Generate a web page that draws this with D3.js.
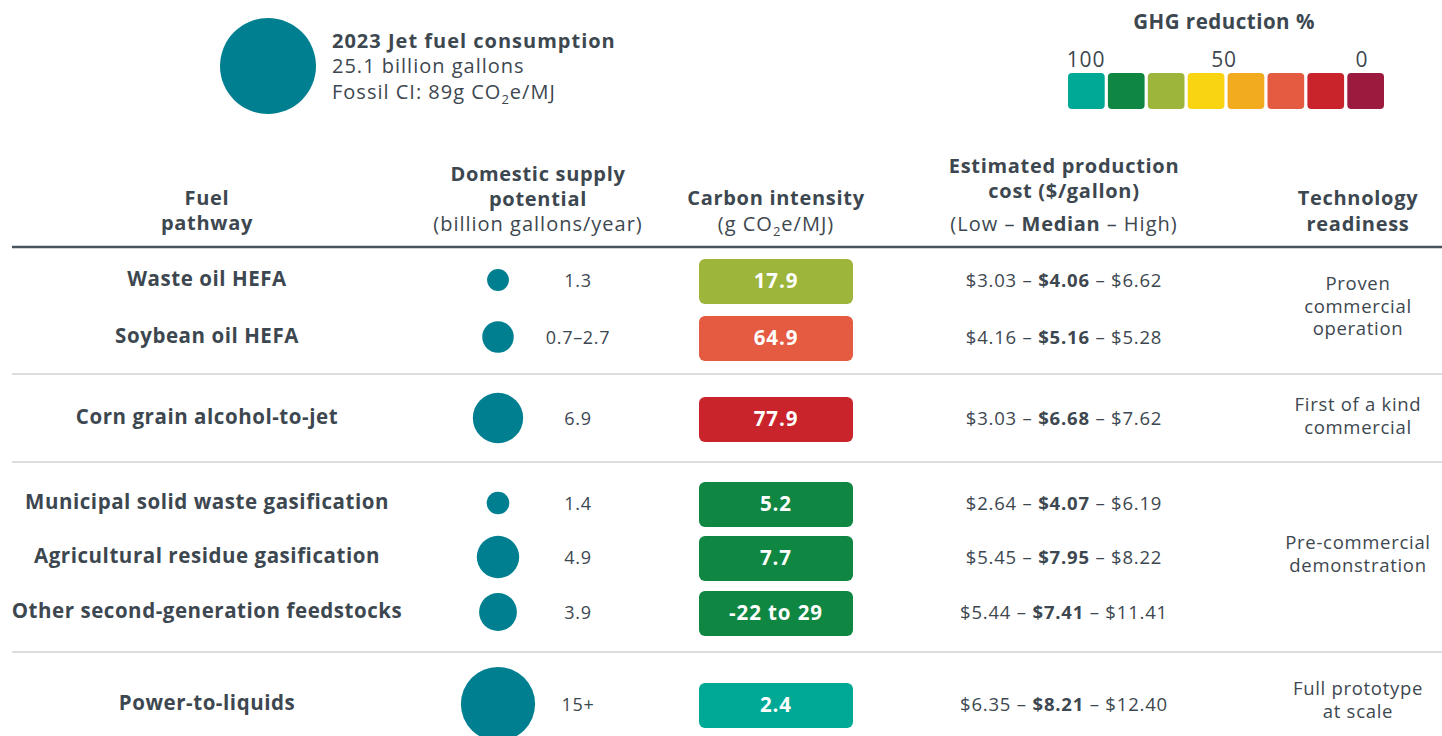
<!DOCTYPE html>
<html>
<head>
<meta charset="utf-8">
<script src="https://cdn.jsdelivr.net/npm/d3@7"></script>
<style>
  body { margin: 0; background: #fff; }
  svg { font-family: "Open Sans", sans-serif; }
</style>
</head>
<body>
<svg id="chart" width="1442" height="736"></svg>
<script>
// dati della tabella
var pathways = ['Waste oil HEFA', 'Soybean oil HEFA', 'Corn grain alcohol-to-jet',
  'Municipal solid waste gasification', 'Agricultural residue gasification',
  'Other second-generation feedstocks', 'Power-to-liquids'];
var supplyValue = [1.3, 2.7, 6.9, 1.4, 4.9, 3.9, 15]; // valore usato per il cerchio
var supplyLabel = ['1.3', '0.7–2.7', '6.9', '1.4', '4.9', '3.9', '15+'];
var ciLabel = ['17.9', '64.9', '77.9', '5.2', '7.7', '-22 to 29', '2.4'];
var ghgClass = [2, 5, 6, 1, 1, 1, 0]; // indice nella legenda GHG
var costLow = ['$3.03', '$4.16', '$3.03', '$2.64', '$5.45', '$5.44', '$6.35'];
var costMed = ['$4.06', '$5.16', '$6.68', '$4.07', '$7.95', '$7.41', '$8.21'];
var costHigh = ['$6.62', '$5.28', '$7.62', '$6.19', '$8.22', '$11.41', '$12.40'];
var readiness = [['Proven', 'commercial', 'operation'], ['First of a kind', 'commercial'],
  ['Pre-commercial', 'demonstration'], ['Full prototype', 'at scale']];

var jetFuel = 25.1;
var ghgColors = ['#00a896', '#0f8642', '#9db53a', '#f8d510', '#f2ab1f', '#e45b41', '#c9242b', '#9c1a3d'];
var ghgTicks = [100, 50, 0];

var svg = d3.select('#chart');
var testo = '#3d4750';
var teal = '#007f91';

// scala ad area per i cerchi
var rScale = d3.scaleSqrt().domain([0, jetFuel]).range([0, 48]);

// posizione verticale delle righe
var rowY = d3.scaleOrdinal().domain(d3.range(7)).range([281, 338, 419, 504, 558, 613, 705]);

// ---- intestazione con cerchio grande
svg.append('circle').attr('cx', 268).attr('cy', 66).attr('r', rScale(jetFuel)).attr('fill', teal);
var intro = svg.append('text').attr('x', 332).attr('y', 48).attr('fill', testo)
  .style('font-size', '20px').style('letter-spacing', '1px');
intro.append('tspan').attr('font-weight', 700).text('2023 Jet fuel consumption');
intro.append('tspan').attr('x', 332).attr('dy', 25).text(jetFuel + ' billion gallons');
intro.append('tspan').attr('x', 332).attr('dy', 26).text('Fossil CI: 89g CO');
intro.append('tspan').attr('dy', 5).style('font-size', '13px').text('2');
intro.append('tspan').attr('dy', -5).text('e/MJ');

// ---- legenda GHG
var legX = d3.scaleBand().domain(d3.range(ghgColors.length)).range([1068, 1384]).paddingInner(0.08);
svg.append('text').attr('x', 1224).attr('y', 29).attr('text-anchor', 'middle')
  .attr('fill', testo).attr('font-weight', 700).style('font-size', '20.5px')
  .style('letter-spacing', '0.5px').text('GHG reduction %');
svg.selectAll('.leg').data(ghgColors).enter().append('rect')
  .attr('x', function (d, i) { return legX(i); })
  .attr('y', 73).attr('width', legX.bandwidth()).attr('height', 36)
  .attr('rx', 4).attr('fill', function (d) { return d; });
var tickX = d3.scaleLinear().domain([100, 0]).range([1086, 1362]);
svg.selectAll('.tick').data(ghgTicks).enter().append('text')
  .attr('x', function (d) { return d == 50 ? 1224 : tickX(d); })
  .attr('y', 67).attr('text-anchor', 'middle').attr('fill', testo)
  .style('font-size', '21px').style('letter-spacing', '0.8px').text(function (d) { return d; });

// ---- intestazioni colonne
var colX = { path: 207, supply: 538, ci: 776, cost: 1064, tech: 1358 };
function header(x, lines) {
  var t = svg.append('text').attr('x', x).attr('text-anchor', 'middle').attr('fill', testo)
    .style('font-size', '20px');
  lines.forEach(function (l) {
    t.append('tspan').attr('x', x).attr('y', l[0]).attr('font-weight', l[2] ? 700 : 400)
      .style('letter-spacing', l[2] ? '0.7px' : '1px').text(l[1]);
  });
  return t;
}
header(colX.path, [[205, 'Fuel', 1], [230, 'pathway', 1]]);
header(colX.supply, [[181, 'Domestic supply', 1], [206, 'potential', 1], [231, '(billion gallons/year)', 0]]);
header(colX.ci, [[205, 'Carbon intensity', 1]]);
var ciSub = svg.append('text').attr('x', colX.ci).attr('y', 231).attr('text-anchor', 'middle')
  .attr('fill', testo).style('font-size', '20px').style('letter-spacing', '1px');
ciSub.append('tspan').text('(g CO');
ciSub.append('tspan').attr('dy', 5).style('font-size', '13px').text('2');
ciSub.append('tspan').attr('dy', -5).text('e/MJ)');
header(colX.cost, [[173, 'Estimated production', 1], [198, 'cost ($/gallon)', 1]]);
var costSub = svg.append('text').attr('x', colX.cost).attr('y', 231).attr('text-anchor', 'middle')
  .attr('fill', testo).style('font-size', '20px').style('letter-spacing', '1px');
costSub.append('tspan').text('(Low – ');
costSub.append('tspan').attr('font-weight', 700).style('letter-spacing', '0.7px').text('Median');
costSub.append('tspan').text(' – High)');
header(colX.tech, [[205, 'Technology', 1], [231, 'readiness', 1]]);

svg.append('line').attr('x1', 12).attr('x2', 1442).attr('y1', 247).attr('y2', 247)
  .attr('stroke', '#4a545c').attr('stroke-width', 2.5);

// linee di separazione tra i gruppi
var sepY = [374, 462, 652];
svg.selectAll('.sep').data(sepY).enter().append('line')
  .attr('x1', 12).attr('x2', 1442).attr('y1', function (d) { return d; }).attr('y2', function (d) { return d; })
  .attr('stroke', '#cfd2d4').attr('stroke-width', 1.5);

// ---- righe
var rows = svg.selectAll('.riga').data(pathways).enter().append('g')
  .attr('transform', function (d, i) { return 'translate(0,' + rowY(i) + ')'; });

rows.append('text').attr('x', colX.path).attr('y', -2).attr('dy', '0.35em').attr('text-anchor', 'middle')
  .attr('fill', testo).attr('font-weight', 700).style('font-size', '20.5px').style('letter-spacing', '0.55px')
  .text(function (d) { return d; });

rows.append('circle').attr('cx', 498).attr('cy', -1)
  .attr('r', function (d, i) { return rScale(supplyValue[i]); }).attr('fill', teal);

rows.append('text').attr('x', 578).attr('y', 0).attr('dy', '0.35em').attr('text-anchor', 'middle')
  .attr('fill', testo).style('font-size', '18px').style('letter-spacing', '0.7px')
  .text(function (d, i) { return supplyLabel[i]; });

rows.append('rect').attr('x', 699).attr('y', -22).attr('width', 154).attr('height', 45).attr('rx', 6)
  .attr('fill', function (d, i) { return ghgColors[ghgClass[i]]; });
rows.append('text').attr('x', colX.ci).attr('y', 0).attr('dy', '0.35em').attr('text-anchor', 'middle')
  .attr('fill', '#fff').attr('font-weight', 700).style('font-size', '20.5px').style('letter-spacing', '0.9px')
  .text(function (d, i) { return ciLabel[i]; });

var cost = rows.append('text').attr('x', colX.cost).attr('y', 0).attr('dy', '0.35em')
  .attr('text-anchor', 'middle').attr('fill', testo).style('font-size', '18.5px').style('letter-spacing', '0.8px');
cost.append('tspan').text(function (d, i) { return costLow[i] + ' – '; });
cost.append('tspan').attr('font-weight', 700).text(function (d, i) { return costMed[i]; });
cost.append('tspan').text(function (d, i) { return ' – ' + costHigh[i]; });

// ---- prontezza tecnologica (una per gruppo)
var techY = [290, 411, 549, 695];
readiness.forEach(function (lines, g) {
  var t = svg.append('text').attr('text-anchor', 'middle').attr('fill', testo)
    .style('font-size', '18.5px').style('letter-spacing', '0.7px');
  lines.forEach(function (l, k) {
    t.append('tspan').attr('x', colX.tech).attr('y', techY[g] + k * 22.5).text(l);
  });
});
</script>
</body>
</html>
